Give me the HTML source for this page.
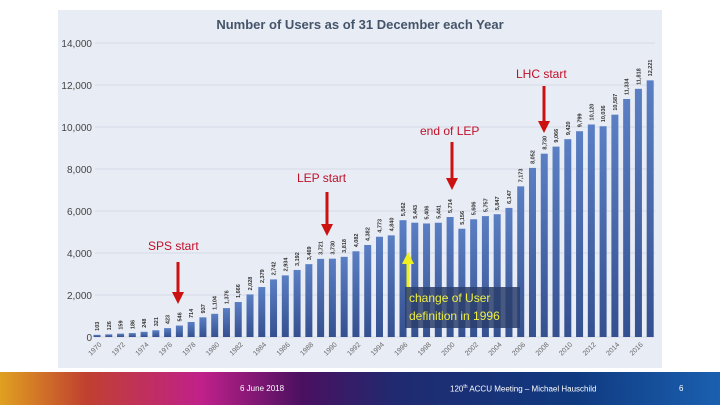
<!DOCTYPE html>
<html><head><meta charset="utf-8"><style>
body{margin:0;width:720px;height:405px;background:#fff;position:relative;overflow:hidden;font-family:"Liberation Sans",sans-serif}
#foot{position:absolute;left:0;top:372px;width:720px;height:33px;background:linear-gradient(90deg,#e0a020 0%,#c04030 12%,#c0208a 28%,#4a1060 42%,#202a70 55%,#103a80 80%,#1a60b0 100%)}
.ft{position:absolute;top:384px;color:#fff;font-size:8px}
</style></head><body>
<svg id="chart" width="720" height="372" style="position:absolute;left:0;top:0">
<defs><linearGradient id="bg" x1="0" y1="0" x2="0" y2="1"><stop offset="0" stop-color="#5b7fc4"/><stop offset="1" stop-color="#34508f"/></linearGradient>
<marker id="ar" markerWidth="4" markerHeight="4" refX="2" refY="2" orient="auto"><path d="M0,0L4,2L0,4z" fill="#cc1111"/></marker>
<marker id="ay" markerWidth="4" markerHeight="4" refX="2" refY="2" orient="auto"><path d="M0,0L4,2L0,4z" fill="#f0f020"/></marker></defs>
<rect x="58" y="10" width="604" height="358" fill="#e8ecf4"/>
<text x="360" y="29" text-anchor="middle" font-size="13" font-weight="bold" fill="#44546a">Number of Users as of 31 December each Year</text>
<g id="grid"></g><g id="bars"></g><g id="labels"></g>
<g>
<text x="148" y="250" font-size="12" fill="#c0102a">SPS start</text>
<line x1="178" y1="262" x2="178" y2="298" stroke="#cc1111" stroke-width="3" marker-end="url(#ar)"/>
<text x="297" y="182" font-size="12" fill="#c0102a">LEP start</text>
<line x1="327" y1="192" x2="327" y2="230" stroke="#cc1111" stroke-width="3" marker-end="url(#ar)"/>
<text x="420" y="135" font-size="12" fill="#c0102a">end of LEP</text>
<line x1="452" y1="142" x2="452" y2="184" stroke="#cc1111" stroke-width="3" marker-end="url(#ar)"/>
<text x="516" y="78" font-size="12" fill="#c0102a">LHC start</text>
<line x1="544" y1="86" x2="544" y2="127" stroke="#cc1111" stroke-width="3" marker-end="url(#ar)"/>
<line x1="408" y1="300" x2="408" y2="258" stroke="#f0f020" stroke-width="3" marker-end="url(#ay)"/>
<rect x="405" y="287" width="115" height="41" fill="#2a3e6c" opacity="0.85"/>
<text x="409" y="302" font-size="12" fill="#f0f040">change of User</text>
<text x="409" y="320" font-size="12" fill="#f0f040">definition in 1996</text>
</g>
</svg>
<div id="foot"></div>
<div class="ft" style="left:240px">6 June 2018</div>
<div class="ft" style="left:450px">120<sup style="font-size:5px">th</sup> ACCU Meeting – Michael Hauschild</div>
<div class="ft" style="left:679px">6</div>
<script>
const years=[1970,1971,1972,1973,1974,1975,1976,1977,1978,1979,1980,1981,1982,1983,1984,1985,1986,1987,1988,1989,1990,1991,1992,1993,1994,1995,1996,1997,1998,1999,2000,2001,2002,2003,2004,2005,2006,2007,2008,2009,2010,2011,2012,2013,2014,2015,2016,2017];
const users=[103,126,159,186,248,321,423,546,714,937,1104,1376,1666,2028,2379,2742,2934,3192,3469,3721,3730,3818,4082,4382,4773,4840,5562,5443,5406,5441,5714,5156,5606,5757,5847,6147,7173,8052,8730,9066,9420,9799,10120,10036,10587,11334,11818,12221];
const yTicks=[0,2000,4000,6000,8000,10000,12000,14000];
const NS="http://www.w3.org/2000/svg";
const y0=337,y1=43,x0=97,step=11.77;
const Y=v=>y0-(v/14000)*(y0-y1);
const X=i=>x0+i*step;
const mk=(t,a,p)=>{const e=document.createElementNS(NS,t);for(const k in a)e.setAttribute(k,a[k]);p.appendChild(e);return e;};
const grid=document.getElementById('grid'),bars=document.getElementById('bars'),lab=document.getElementById('labels');
yTicks.forEach(v=>{
 const l=mk('line',{x1:95,x2:655,y1:Y(v),y2:Y(v),stroke:'#d4dae6','stroke-width':1},grid);
 
 
 const t=mk('text',{x:92,y:Y(v)+4,'text-anchor':'end','font-size':10,fill:'#444'},lab);
 t.textContent=v.toLocaleString('en-US');
 
 
});
users.forEach((v,i)=>{
 const x=X(i);
 const r=mk('rect',{x:x-3.5,y:Y(v),width:7,height:y0-Y(v),fill:'url(#bg)'},bars);
 
 
 const t=mk('text',{x:0,y:0,'font-size':5.5,'font-weight':'bold',fill:'#333',transform:`translate(${x+2},${Y(v)-4}) rotate(-90)`},lab);
 t.textContent=v.toLocaleString('en-US');
 
 
 if(years[i]%2===0&&years[i]<=2016){
  const xt=mk('text',{x:0,y:0,'font-size':7,fill:'#666','text-anchor':'end',transform:`translate(${x+5},${y0+8}) rotate(-45)`},lab);
  xt.textContent=years[i];
  
  
 }
});
</script>
</body></html>
